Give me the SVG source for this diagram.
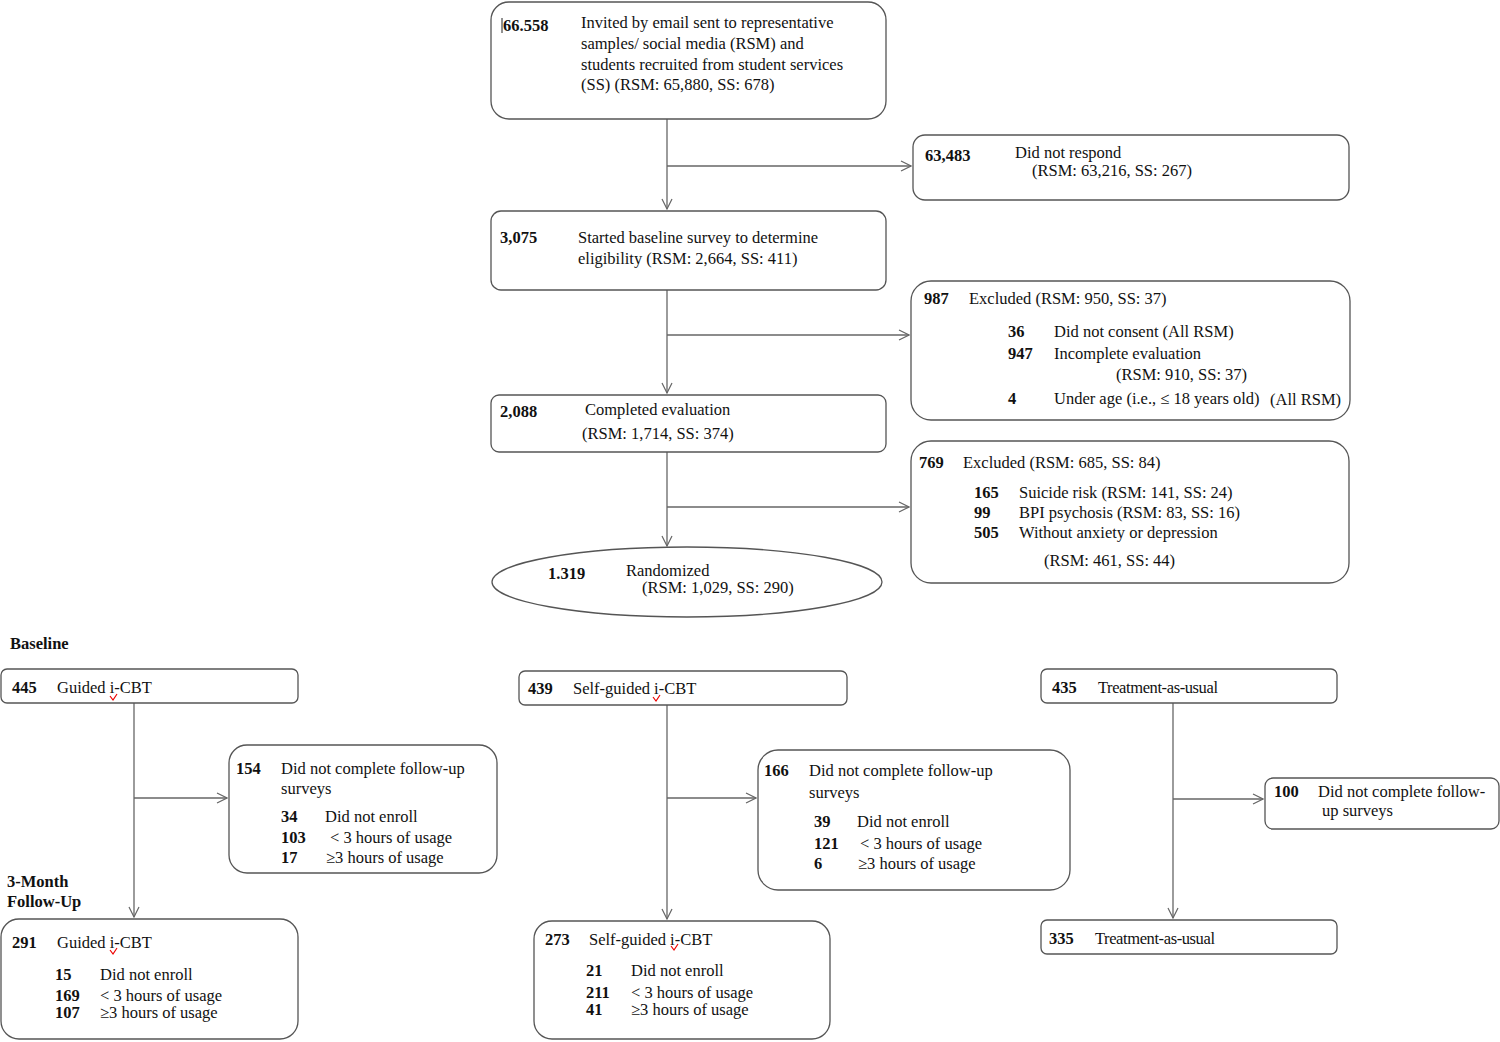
<svg xmlns="http://www.w3.org/2000/svg" width="1500" height="1042" viewBox="0 0 1500 1042">
<defs>
<style>
text{font-family:"Liberation Serif","Times New Roman",serif;font-size:16.5px;fill:#111}
.b{font-weight:bold}
.box{fill:#fff;stroke:#555;stroke-width:1.3}
.ln{fill:none;stroke:#666;stroke-width:1.3}
.sq{fill:none;stroke:#e00;stroke-width:1.2}
</style>
<marker id="ah" viewBox="0 0 12 12" refX="11" refY="6" markerWidth="12" markerHeight="12" markerUnits="userSpaceOnUse" orient="auto">
<path d="M1,1 L11,6 L1,11" fill="none" stroke="#666" stroke-width="1.2"/>
</marker>
</defs>
<rect width="1500" height="1042" fill="#fff"/>

<g id="connectors">
<path class="ln" d="M667,119 V209" marker-end="url(#ah)"/>
<path class="ln" d="M667,166 H911" marker-end="url(#ah)"/>
<path class="ln" d="M667,290 V393" marker-end="url(#ah)"/>
<path class="ln" d="M667,335 H909" marker-end="url(#ah)"/>
<path class="ln" d="M667,452 V546" marker-end="url(#ah)"/>
<path class="ln" d="M667,507 H909" marker-end="url(#ah)"/>
<path class="ln" d="M134,703 V917" marker-end="url(#ah)"/>
<path class="ln" d="M134,798 H227" marker-end="url(#ah)"/>
<path class="ln" d="M667,705 V919" marker-end="url(#ah)"/>
<path class="ln" d="M667,798 H756" marker-end="url(#ah)"/>
<path class="ln" d="M1173,703 V918" marker-end="url(#ah)"/>
<path class="ln" d="M1173,799 H1263" marker-end="url(#ah)"/>
</g>

<g id="n-invited">
<rect class="box" x="491" y="2" width="395" height="117" rx="18"/>
<line x1="502" y1="18" x2="502" y2="33" stroke="#222" stroke-width="1"/>
<text class="b" x="503" y="31">66.558</text>
<text x="581" y="28">Invited by email sent to representative</text>
<text x="581" y="49">samples/ social media (RSM) and</text>
<text x="581" y="70">students recruited from student services</text>
<text x="581" y="90">(SS) (RSM: 65,880, SS: 678)</text>
</g>

<g id="n-norespond">
<rect class="box" x="913" y="135" width="436" height="65" rx="12"/>
<text class="b" x="925" y="161">63,483</text>
<text x="1015" y="158">Did not respond</text>
<text x="1032" y="176">(RSM: 63,216, SS: 267)</text>
</g>

<g id="n-started">
<rect class="box" x="491" y="211" width="395" height="79" rx="10"/>
<text class="b" x="500" y="243">3,075</text>
<text x="578" y="243">Started baseline survey to determine</text>
<text x="578" y="264">eligibility (RSM: 2,664, SS: 411)</text>
</g>

<g id="n-excl987">
<rect class="box" x="911" y="281" width="439" height="139" rx="20"/>
<text class="b" x="924" y="304">987</text>
<text x="969" y="304">Excluded (RSM: 950, SS: 37)</text>
<text class="b" x="1008" y="337">36</text>
<text x="1054" y="337">Did not consent (All RSM)</text>
<text class="b" x="1008" y="359">947</text>
<text x="1054" y="359">Incomplete evaluation</text>
<text x="1116" y="380">(RSM: 910, SS: 37)</text>
<text class="b" x="1008" y="404">4</text>
<text x="1054" y="404">Under age (i.e., ≤ 18 years old)</text>
<text x="1270" y="405">(All RSM)</text>
</g>

<g id="n-completed">
<rect class="box" x="491" y="395" width="395" height="57" rx="8"/>
<text class="b" x="500" y="417">2,088</text>
<text x="585" y="415">Completed evaluation</text>
<text x="582" y="439">(RSM: 1,714, SS: 374)</text>
</g>

<g id="n-excl769">
<rect class="box" x="911" y="441" width="438" height="142" rx="20"/>
<text class="b" x="919" y="468">769</text>
<text x="963" y="468">Excluded (RSM: 685, SS: 84)</text>
<text class="b" x="974" y="498">165</text>
<text x="1019" y="498">Suicide risk (RSM: 141, SS: 24)</text>
<text class="b" x="974" y="518">99</text>
<text x="1019" y="518">BPI psychosis (RSM: 83, SS: 16)</text>
<text class="b" x="974" y="538">505</text>
<text x="1019" y="538">Without anxiety or depression</text>
<text x="1044" y="566">(RSM: 461, SS: 44)</text>
</g>

<g id="n-randomized">
<ellipse class="box" cx="687" cy="582" rx="195" ry="35"/>
<text class="b" x="548" y="579">1.319</text>
<text x="626" y="576">Randomized</text>
<text x="642" y="593">(RSM: 1,029, SS: 290)</text>
</g>

<g id="labels">
<text class="b" x="10" y="649">Baseline</text>
<text class="b" x="7" y="887">3-Month</text>
<text class="b" x="7" y="907">Follow-Up</text>
</g>

<g id="n-g1">
<rect class="box" x="1" y="669" width="297" height="34" rx="6"/>
<text class="b" x="12" y="693">445</text>
<text x="57" y="693">Guided i-CBT</text>
<path class="sq" d="M110,696 L113,700 L117,694"/>
</g>

<g id="n-g2">
<rect class="box" x="229" y="745" width="268" height="128" rx="18"/>
<text class="b" x="236" y="774">154</text>
<text x="281" y="774">Did not complete follow-up</text>
<text x="281" y="794">surveys</text>
<text class="b" x="281" y="822">34</text>
<text x="325" y="822">Did not enroll</text>
<text class="b" x="281" y="843">103</text>
<text x="330" y="843">&lt; 3 hours of usage</text>
<text class="b" x="281" y="863">17</text>
<text x="326" y="863">≥3 hours of usage</text>
</g>

<g id="n-g3">
<rect class="box" x="1" y="919" width="297" height="120" rx="18"/>
<text class="b" x="12" y="948">291</text>
<text x="57" y="948">Guided i-CBT</text>
<path class="sq" d="M110,950 L113,954 L117,948"/>
<text class="b" x="55" y="980">15</text>
<text x="100" y="980">Did not enroll</text>
<text class="b" x="55" y="1001">169</text>
<text x="100" y="1001">&lt; 3 hours of usage</text>
<text class="b" x="55" y="1018">107</text>
<text x="100" y="1018">≥3 hours of usage</text>
</g>

<g id="n-s1">
<rect class="box" x="519" y="671" width="328" height="34" rx="6"/>
<text class="b" x="528" y="694">439</text>
<text x="573" y="694">Self-guided i-CBT</text>
<path class="sq" d="M653,697 L656,701 L660,695"/>
</g>

<g id="n-s2">
<rect class="box" x="758" y="750" width="312" height="140" rx="20"/>
<text class="b" x="764" y="776">166</text>
<text x="809" y="776">Did not complete follow-up</text>
<text x="809" y="798">surveys</text>
<text class="b" x="814" y="827">39</text>
<text x="857" y="827">Did not enroll</text>
<text class="b" x="814" y="849">121</text>
<text x="860" y="849">&lt; 3 hours of usage</text>
<text class="b" x="814" y="869">6</text>
<text x="858" y="869">≥3 hours of usage</text>
</g>

<g id="n-s3">
<rect class="box" x="534" y="921" width="296" height="118" rx="18"/>
<text class="b" x="545" y="945">273</text>
<text x="589" y="945">Self-guided i-CBT</text>
<path class="sq" d="M671,946 L674,950 L678,944"/>
<text class="b" x="586" y="976">21</text>
<text x="631" y="976">Did not enroll</text>
<text class="b" x="586" y="998">211</text>
<text x="631" y="998">&lt; 3 hours of usage</text>
<text class="b" x="586" y="1015">41</text>
<text x="631" y="1015">≥3 hours of usage</text>
</g>

<g id="n-t1">
<rect class="box" x="1041" y="669" width="296" height="34" rx="6"/>
<text class="b" x="1052" y="693">435</text>
<text x="1098" y="693" letter-spacing="-0.4">Treatment-as-usual</text>
</g>

<g id="n-t2">
<rect class="box" x="1265" y="778" width="234" height="51" rx="8"/>
<text class="b" x="1274" y="797">100</text>
<text x="1318" y="797">Did not complete follow-</text>
<text x="1322" y="816">up surveys</text>
</g>

<g id="n-t3">
<rect class="box" x="1041" y="920" width="296" height="34" rx="6"/>
<text class="b" x="1049" y="944">335</text>
<text x="1095" y="944" letter-spacing="-0.4">Treatment-as-usual</text>
</g>
</svg>
